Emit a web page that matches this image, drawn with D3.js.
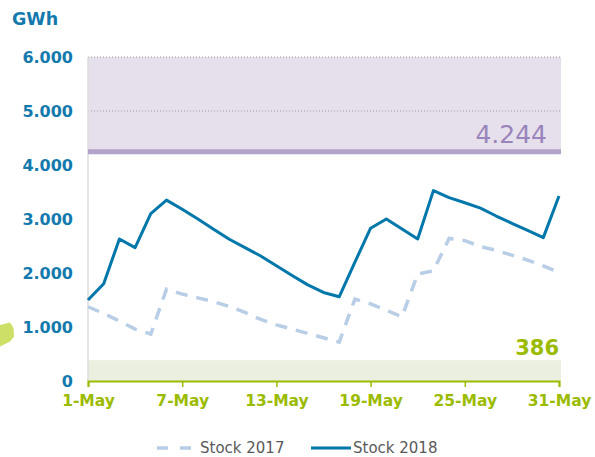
<!DOCTYPE html>
<html>
<head>
<meta charset="utf-8">
<script src="https://cdn.jsdelivr.net/npm/d3@7"></script>
<style>
  body { margin: 0; background: #fff; }
  text { font-family: "DejaVu Sans", Verdana, sans-serif; }
</style>
</head>
<body>
<div id="chart"></div>
<script>
var width_chart = 595,
    height_chart = 457;

// data (GWh per day of May)
var days = [1,2,3,4,5,6,7,8,9,10,11,12,13,14,15,16,17,18,19,20,21,22,23,24,25,26,27,28,29,30,31];
var stock2017 = [1375,1250,1110,960,870,1700,1610,1540,1470,1380,1270,1140,1040,960,880,800,720,1515,1430,1310,1190,1980,2040,2640,2600,2490,2420,2330,2240,2130,2010];
var stock2018 = [1500,1800,2630,2470,3100,3350,3180,3000,2810,2625,2470,2315,2135,1955,1780,1640,1560,2200,2830,3000,2815,2630,3525,3395,3300,3200,3055,2920,2790,2655,3425];
var x_ticks = [1,7,13,19,25,31];
var x_labels = ["1-May","7-May","13-May","19-May","25-May","31-May"];
var y_ticks = [0,1000,2000,3000,4000,5000,6000];
var y_labels = ["0","1.000","2.000","3.000","4.000","5.000","6.000"];
var max_level = 4244,
    min_level = 386;
var series_names = ["Stock 2017","Stock 2018"];

var color_2018 = "#0077aa",
    color_2017 = "#b8cde6",
    color_axis = "#1479ad",
    color_green = "#9bbb00",
    color_purple = "#9a85bb";

var svg = d3.select("#chart").append("svg")
    .attr("width", width_chart)
    .attr("height", height_chart);

var x = d3.scaleLinear().domain([1, 31]).range([88, 559]);
var y = d3.scaleLinear().domain([0, 6000]).range([381, 57]);

// green blob sticking in on the left
svg.append("path")
    .attr("d", "M0,325 L10,322.5 L13.5,328 L14,336.5 L10,341.5 L0,346.5 Z")
    .style("fill", "#cddf66");

// upper band (above max level)
svg.append("rect")
    .attr("x", x(1))
    .attr("y", y(6000))
    .attr("width", x(31) - x(1) + 2)
    .attr("height", y(max_level) - y(6000))
    .style("fill", "#e6e0ec");

// lower band (below min level)
svg.append("rect")
    .attr("x", x(1))
    .attr("y", y(min_level))
    .attr("width", x(31) - x(1) + 2)
    .attr("height", y(0) - y(min_level))
    .style("fill", "#ebefdf");

// dotted grid inside the upper band
svg.selectAll("line.grid")
    .data(y_ticks.filter(function(d) { return d > max_level; }))
    .enter().append("line")
    .attr("class", "grid")
    .attr("x1", x(1)).attr("x2", x(31) + 2)
    .attr("y1", function(d) { return y(d); })
    .attr("y2", function(d) { return y(d); })
    .style("stroke", "#9a9a9a")
    .style("stroke-width", 1)
    .style("stroke-dasharray", "1,2");

// left axis line
svg.append("line")
    .attr("x1", x(1)).attr("x2", x(1))
    .attr("y1", y(6000)).attr("y2", y(0))
    .style("stroke", "#dcdcdc")
    .style("stroke-width", 1.5);

// max level line
svg.append("line")
    .attr("x1", x(1)).attr("x2", x(31) + 2)
    .attr("y1", y(max_level)).attr("y2", y(max_level))
    .style("stroke", "#b3a2c9")
    .style("stroke-width", 5);

svg.append("text")
    .attr("x", 547)
    .attr("y", 143)
    .attr("text-anchor", "end")
    .style("font-size", "25px")
    .style("fill", color_purple)
    .text("4.244");

svg.append("text")
    .attr("x", 559)
    .attr("y", 355)
    .attr("text-anchor", "end")
    .style("font-size", "21px")
    .style("font-weight", "bold")
    .style("fill", color_green)
    .text("386");

// y labels
svg.selectAll("text.ylab")
    .data(y_ticks)
    .enter().append("text")
    .attr("class", "ylab")
    .attr("x", 73)
    .attr("y", function(d) { return y(d); })
    .attr("dy", "0.36em")
    .attr("text-anchor", "end")
    .style("font-size", "16px")
    .style("font-weight", "bold")
    .style("fill", color_axis)
    .text(function(d, i) { return y_labels[i]; });

svg.append("text")
    .attr("x", 12)
    .attr("y", 25)
    .style("font-size", "17.5px")
    .style("font-weight", "bold")
    .style("fill", color_axis)
    .text("GWh");

// x axis
var x_axis = d3.axisBottom(x)
    .tickValues(x_ticks)
    .tickSize(6)
    .tickPadding(8)
    .tickFormat(function(d, i) { return x_labels[i]; });

var gx = svg.append("g")
    .attr("transform", "translate(0," + y(0) + ")")
    .call(x_axis);
gx.select(".domain").style("stroke", color_green).style("stroke-width", 2);
gx.selectAll(".tick line").style("stroke", color_green).style("stroke-width", 1.5);
gx.selectAll(".tick text")
    .style("font-family", "'DejaVu Sans', Verdana, sans-serif")
    .style("font-size", "15.5px")
    .style("font-weight", "bold")
    .style("fill", color_green);

// lines
var line = d3.line()
    .x(function(d, i) { return x(days[i]); })
    .y(function(d) { return y(d); });

svg.append("path")
    .datum(stock2017)
    .attr("d", line)
    .style("fill", "none")
    .style("stroke", color_2017)
    .style("stroke-width", 3.5)
    .style("stroke-dasharray", "12,9");

svg.append("path")
    .datum(stock2018)
    .attr("d", line)
    .style("fill", "none")
    .style("stroke", color_2018)
    .style("stroke-width", 3)
    .style("stroke-linejoin", "round");

// legend
var legend = svg.append("g");
legend.append("line")
    .attr("x1", 157).attr("x2", 193)
    .attr("y1", 448).attr("y2", 448)
    .style("stroke", color_2017)
    .style("stroke-width", 3.5)
    .style("stroke-dasharray", "11,12");
legend.append("text")
    .attr("x", 200).attr("y", 453)
    .style("font-size", "15px")
    .style("fill", "#595959")
    .text(series_names[0]);
legend.append("line")
    .attr("x1", 311).attr("x2", 351)
    .attr("y1", 448).attr("y2", 448)
    .style("stroke", color_2018)
    .style("stroke-width", 3);
legend.append("text")
    .attr("x", 353).attr("y", 453)
    .style("font-size", "15px")
    .style("fill", "#595959")
    .text(series_names[1]);
</script>
</body>
</html>
